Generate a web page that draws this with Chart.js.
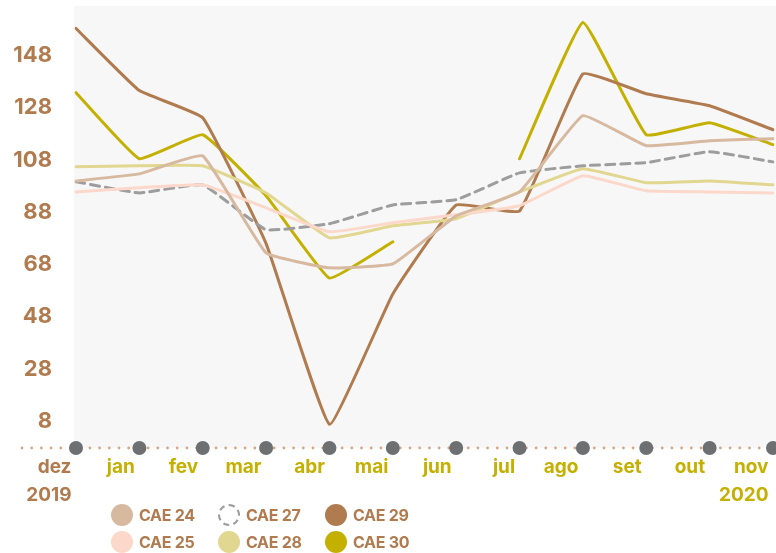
<!DOCTYPE html>
<html>
<head>
<meta charset="utf-8">
<script src="https://cdn.jsdelivr.net/npm/chart.js@4.4.1/dist/chart.umd.min.js"></script>
<style>
  body { margin: 0; background: #fff; }
  #wrap { position: relative; width: 776px; height: 553px; }
  canvas { display: block; }
  .item { position: absolute; display: flex; align-items: center; height: 22px;
          font: 700 16px Inter, sans-serif; color: #b07b4f; letter-spacing: -0.3px; }
  .dot { width: 22px; height: 22px; border-radius: 50%; margin-right: 6px; box-sizing: border-box; }
</style>
</head>
<body>
<div id="wrap">
  <canvas id="chart" width="776" height="553"></canvas>
  <div id="legend"></div>
</div>
<script>
// dados
const months = ['dez', 'jan', 'fev', 'mar', 'abr', 'mai', 'jun', 'jul', 'ago', 'set', 'out', 'nov'];
const years = { 0: '2019', 11: '2020' };
const yTicks = [8, 28, 48, 68, 88, 108, 128, 148];

const cae24 = [100, 102.7, 109.6, 72.4, 66.7, 68.2, 86.6, 95.8, 125, 113.5, 115.4, 116.2];
const cae25 = [95.8, 97.4, 98.5, 89.7, 80.5, 84, 87, 90.5, 102, 96.2, 95.8, 95.4];
const cae27 = [99.7, 95.4, 98.5, 81.3, 83.6, 90.8, 92.8, 103.1, 105.8, 107, 111.2, 107.3];
const cae28 = [105.4, 105.8, 105.8, 95.4, 78.2, 82.8, 85.5, 95.8, 104.7, 99.3, 100, 98.5];
const cae29 = [158.4, 134.6, 124.2, 76, 6.8, 56.7, 90.8, 88.5, 141, 133.4, 128.8, 119.6];
const cae30 = [133.8, 108.5, 117.7, 94.3, 62.8, 76.7, null, 108.5, 160.7, 117.7, 122.3, 113.9];

const brown = '#b07b4f';
const olive = '#c4b000';

const series = [
  { label: 'CAE 24', data: cae24, color: '#d7b9a0' },
  { label: 'CAE 25', data: cae25, color: '#fcd8ca' },
  { label: 'CAE 27', data: cae27, color: '#9d9d9d', dash: [9, 6] },
  { label: 'CAE 28', data: cae28, color: '#e1d790' },
  { label: 'CAE 29', data: cae29, color: brown },
  { label: 'CAE 30', data: cae30, color: olive }
];

// fundo cinza e eixo pontilhado
const decor = {
  id: 'decor',
  beforeDatasetsDraw(chart) {
    const { ctx, chartArea } = chart;
    ctx.save();
    ctx.fillStyle = '#f7f7f7';
    ctx.fillRect(chartArea.left - 2, chartArea.top, chart.width, chartArea.bottom - chartArea.top);
    ctx.restore();
  },
  afterDatasetsDraw(chart) {
    const { ctx, chartArea } = chart;
    const xs = chart.scales.x;
    const y = chartArea.bottom;
    ctx.save();
    ctx.fillStyle = '#d4a887';
    for (let x = 22; x < chart.width; x += 9.7) {
      ctx.beginPath();
      ctx.arc(x, y, 1.4, 0, Math.PI * 2);
      ctx.fill();
    }
    ctx.fillStyle = '#6e6f71';
    xs.ticks.forEach((t, i) => {
      ctx.beginPath();
      ctx.arc(xs.getPixelForTick(i), y, 7, 0, Math.PI * 2);
      ctx.fill();
    });
    ctx.restore();
  }
};

new Chart(document.getElementById('chart'), {
  type: 'line',
  data: {
    labels: months,
    datasets: series.map(s => ({
      label: s.label,
      data: s.data,
      borderColor: s.color,
      backgroundColor: s.color,
      borderWidth: 3,
      borderDash: s.dash || [],
      borderJoinStyle: 'round',
      borderCapStyle: 'round',
      tension: 0.1,
      pointRadius: 0,
      spanGaps: false
    }))
  },
  options: {
    responsive: false,
    animation: false,
    layout: { padding: { top: 6, right: 3 } },
    plugins: { legend: { display: false }, tooltip: { enabled: false } },
    scales: {
      x: {
        grid: { display: false, drawTicks: false },
        border: { display: false },
        afterFit: s => {
          s.height = 105;
          s.paddingLeft = 0; s.paddingRight = 0;
        },
        ticks: {
          align: 'end',
          padding: 5,
          autoSkip: false,
          maxRotation: 0,
          font: { family: 'Inter', weight: 700, size: 19, lineHeight: 1.5 },
          color: ctx => ctx.index === 0 ? brown : olive,
          callback: (v, i) => years[i] ? [months[i] + ' ', years[i] + ' '] : months[i] + ' '
        }
      },
      y: {
        min: -2.3,
        max: 167,
        grid: { display: false, drawTicks: false },
        border: { display: false },
        afterFit: s => {
          s.width = 76;
          s.paddingTop = 0; s.paddingBottom = 0;
        },
        afterBuildTicks: s => { s.ticks = yTicks.map(v => ({ value: v })); },
        ticks: {
          padding: 24,
          font: { family: 'Inter', weight: 700, size: 22 },
          color: brown
        }
      }
    }
  },
  plugins: [decor]
});

// legenda
const legend = document.getElementById('legend');
series.forEach((s, i) => {
  const col = Math.floor(i / 2), row = i % 2;
  const item = document.createElement('div');
  item.className = 'item';
  item.style.left = (111 + col * 107) + 'px';
  item.style.top = (504 + row * 27) + 'px';
  const dot = document.createElement('span');
  dot.className = 'dot';
  if (s.dash) dot.style.border = '2px dashed #9d9d9d';
  else dot.style.background = s.color;
  item.appendChild(dot);
  item.appendChild(document.createTextNode(s.label));
  legend.appendChild(item);
});
</script>
</body>
</html>
